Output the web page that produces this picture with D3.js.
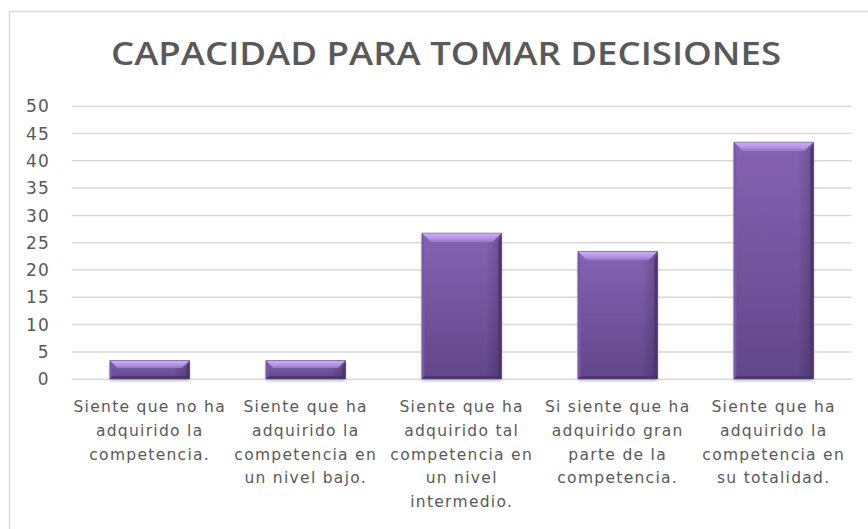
<!DOCTYPE html>
<html>
<head>
<meta charset="utf-8">
<script src="https://cdn.jsdelivr.net/npm/d3@7"></script>
<style>
  html, body { margin: 0; padding: 0; background: #ffffff; }
  svg { display: block; }
</style>
</head>
<body>
<svg id="chart" width="868" height="529"></svg>
<script>
const title = "CAPACIDAD PARA TOMAR DECISIONES";
const categories = [
  ["Siente que no ha", "adquirido la", "competencia."],
  ["Siente que ha", "adquirido la", "competencia en", "un nivel bajo."],
  ["Siente que ha", "adquirido tal", "competencia en", "un nivel", "intermedio."],
  ["Si siente que ha", "adquirido gran", "parte de la", "competencia."],
  ["Siente que ha", "adquirido la", "competencia en", "su totalidad."]
];
const values = [3.33, 3.33, 26.67, 23.33, 43.33];
const yTicks = [0, 5, 10, 15, 20, 25, 30, 35, 40, 45, 50];

const svg = d3.select("#chart");
const W = 868, H = 529;
const plot = { left: 71.7, right: 851.7, top: 105.7, bottom: 378.7 };

// defs
const defs = svg.append("defs");
const g1 = defs.append("linearGradient").attr("id", "barFill").attr("x1", 0).attr("y1", 0).attr("x2", 0).attr("y2", 1);
g1.append("stop").attr("offset", "0%").attr("stop-color", "#8563b3");
g1.append("stop").attr("offset", "100%").attr("stop-color", "#614689");
const g2 = defs.append("linearGradient").attr("id", "barSide").attr("x1", 0).attr("y1", 0).attr("x2", 1).attr("y2", 0);
g2.append("stop").attr("offset", "0%").attr("stop-color", "#000").attr("stop-opacity", 0.0);
g2.append("stop").attr("offset", "80%").attr("stop-color", "#000").attr("stop-opacity", 0.0);
g2.append("stop").attr("offset", "100%").attr("stop-color", "#000").attr("stop-opacity", 0.2);
const g3 = defs.append("linearGradient").attr("id", "bevelTop").attr("x1", 0).attr("y1", 0).attr("x2", 0).attr("y2", 1);
g3.append("stop").attr("offset", "0%").attr("stop-color", "#cdb2f5");
g3.append("stop").attr("offset", "55%").attr("stop-color", "#b595e6");
g3.append("stop").attr("offset", "100%").attr("stop-color", "#9474c6");
const sh = defs.append("filter").attr("id", "shadow").attr("x", "-20%").attr("y", "-20%").attr("width", "140%").attr("height", "140%");
sh.append("feGaussianBlur").attr("in", "SourceAlpha").attr("stdDeviation", 1.5).attr("result", "b");
sh.append("feOffset").attr("in", "b").attr("dx", 0).attr("dy", 2).attr("result", "o");
sh.append("feComponentTransfer").attr("in", "o").attr("result", "s")
  .append("feFuncA").attr("type", "linear").attr("slope", 0.3);
const m = sh.append("feMerge");
m.append("feMergeNode").attr("in", "s");
m.append("feMergeNode").attr("in", "SourceGraphic");

// frame
svg.append("rect").attr("x", 9.5).attr("y", 11.5).attr("width", W + 20).attr("height", H + 20)
  .attr("fill", "#ffffff").attr("stroke", "#d9d9d9").attr("stroke-width", 1.5);

// title
const t = svg.append("text").attr("x", 446).attr("y", 65).attr("text-anchor", "middle")
  .attr("font-family", "'Open Sans', sans-serif").attr("font-weight", 600).attr("font-size", 32)
  .attr("fill", "#595959").text(title);
t.attr("textLength", 670).attr("lengthAdjust", "spacingAndGlyphs");

// scales
const x = d3.scaleBand().domain(d3.range(categories.length)).range([plot.left, plot.right])
  .paddingInner(0.49).paddingOuter(0.245);
const y = d3.scaleLinear().domain([0, 50]).range([plot.bottom, plot.top]);

// gridlines
const yAxis = d3.axisLeft(y).tickValues(yTicks).tickSize(-(plot.right - plot.left)).tickPadding(22);
const ga = svg.append("g").attr("transform", `translate(${plot.left},0)`).call(yAxis);
ga.select(".domain").remove();
ga.selectAll(".tick line").attr("stroke", "#d9d9d9").attr("stroke-width", 1.5);
ga.selectAll(".tick text").attr("font-family", "'DejaVu Sans', sans-serif").attr("font-size", 17)
  .attr("letter-spacing", 1).attr("fill", "#595959").attr("dy", "0.36em");

// bars
const bars = svg.append("g").selectAll("g.bar").data(values).join("g").attr("class", "bar");
bars.each(function(v, i) {
  const g = d3.select(this);
  const x0 = x(i), w = x.bandwidth(), y0 = y(v), h = y(0) - y(v);
  const bv = Math.min(9, h / 2.4);
  g.append("rect").attr("x", x0).attr("y", y0).attr("width", w).attr("height", h)
    .attr("fill", "url(#barFill)").attr("filter", "url(#shadow)");
  g.append("rect").attr("x", x0).attr("y", y0).attr("width", w).attr("height", h)
    .attr("fill", "url(#barSide)");
  // left bevel
  g.append("path").attr("d", `M${x0},${y0} L${x0 + 2.5},${y0 + bv} L${x0 + 2.5},${y0 + h - 2} L${x0},${y0 + h} Z`)
    .attr("fill", "#7b5bab");
  // right bevel
  g.append("path").attr("d", `M${x0 + w},${y0} L${x0 + w - 3},${y0 + bv} L${x0 + w - 3},${y0 + h - 2} L${x0 + w},${y0 + h} Z`)
    .attr("fill", "#4b3470");
  // top bevel
  g.append("path").attr("d", `M${x0},${y0} L${x0 + w},${y0} L${x0 + w - bv},${y0 + bv} L${x0 + bv},${y0 + bv} Z`)
    .attr("fill", "url(#bevelTop)");
  // bottom bevel
  g.append("path").attr("d", `M${x0},${y0 + h} L${x0 + w},${y0 + h} L${x0 + w - 2.5},${y0 + h - 2.5} L${x0 + 2.5},${y0 + h - 2.5} Z`)
    .attr("fill", "#4a336e");
  g.append("rect").attr("x", x0).attr("y", y0).attr("width", w).attr("height", h)
    .attr("fill", "none").attr("stroke", "#4f3a73").attr("stroke-width", 0.8).attr("stroke-opacity", 0.6);
});

// category labels
const labels = svg.append("g").selectAll("text").data(categories).join("text")
  .attr("x", (d, i) => x(i) + x.bandwidth() / 2)
  .attr("y", 412)
  .attr("text-anchor", "middle")
  .attr("font-family", "'DejaVu Sans', sans-serif").attr("font-size", 15.5)
  .attr("letter-spacing", 1.3)
  .attr("fill", "#595959");
labels.selectAll("tspan").data(d => d).join("tspan")
  .attr("x", function() { return d3.select(this.parentNode).attr("x"); })
  .attr("dy", (d, j) => j === 0 ? 0 : 23.8)
  .text(d => d);
</script>
</body>
</html>
